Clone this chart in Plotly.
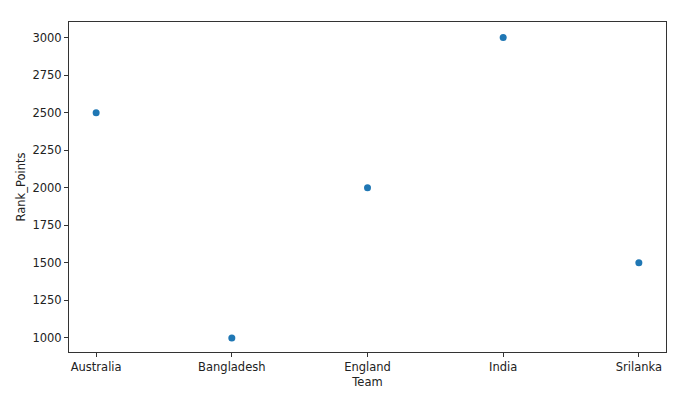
import plotly.graph_objects as go

teams = ["Australia", "Bangladesh", "England", "India", "Srilanka"]
rank_points = [2500, 1000, 2000, 3000, 1500]
y_ticks = [1000, 1250, 1500, 1750, 2000, 2250, 2500, 2750, 3000]

FONT = dict(family="DejaVu Sans", size=11.5, color="#222222")

fig = go.Figure(go.Scatter(
    x=teams, y=rank_points, mode="markers",
    marker=dict(color="#1f77b4", size=7),
))

axis_common = dict(
    showgrid=False, zeroline=False, showline=True, mirror=True,
    linecolor="#333333", linewidth=1, ticks="outside", ticklen=4,
    tickcolor="#333333", tickfont=FONT,
)
fig.update_xaxes(type="category", range=[-0.2, 4.2],
                 title=dict(text="Team", font=FONT, standoff=5),
                 **axis_common)
fig.update_yaxes(range=[906, 3104], tickvals=y_ticks,
                 title=dict(text="Rank_Points", font=FONT, standoff=4),
                 **axis_common)
fig.update_layout(
    width=700, height=396,
    margin=dict(l=59, r=42, t=14, b=52),
    plot_bgcolor="white", paper_bgcolor="white",
    showlegend=False,
)
fig.write_html("out.html")
